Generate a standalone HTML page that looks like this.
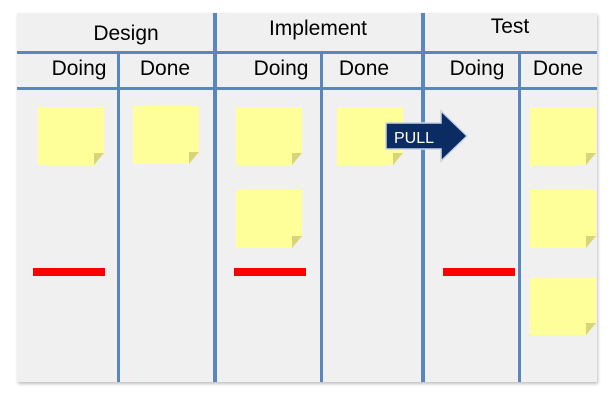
<!DOCTYPE html>
<html><head><style>
body{margin:0;width:612px;height:403px;background:#fff;position:relative;overflow:hidden;font-family:"Liberation Sans",sans-serif}
.a{position:absolute}
.board{left:17px;top:13px;width:580px;height:369px;background:#f0f0f0;box-shadow:1px 2px 3px rgba(0,0,0,.25)}
.h{height:3px;background:#5a86c0;left:17px;width:580px}
.v{background:#5a86c0}
.t{font-size:21px;color:#000;text-align:center}
.s{background:#ffff99;width:66px;height:58px;box-shadow:1px 2px 2px rgba(0,0,0,.3);clip-path:polygon(0 0,100% 0,100% 80%,85% 100%,0 100%)}
.s:after{content:"";position:absolute;right:0;bottom:0;width:10px;height:12px;background:#d8d47a;clip-path:polygon(100% 0,0 100%,0 0)}
.r{background:#ff0000;height:8px;width:72px;top:268px}
</style></head><body>
<div class="a board"></div>
<div class="a h" style="top:51px"></div>
<div class="a h" style="top:87px"></div>
<div class="a v" style="left:213px;top:13px;width:4px;height:369px"></div>
<div class="a v" style="left:421px;top:13px;width:4px;height:369px"></div>
<div class="a v" style="left:117px;top:53px;width:3px;height:329px"></div>
<div class="a v" style="left:320px;top:53px;width:3px;height:329px"></div>
<div class="a v" style="left:518px;top:53px;width:3px;height:329px"></div>
<div class="a t" style="left:60px;width:132px;top:22px">Design</div>
<div class="a t" style="left:240px;width:156px;top:17px">Implement</div>
<div class="a t" style="left:460px;width:100px;top:15px">Test</div>
<div class="a t" style="left:40px;width:78px;top:57px">Doing</div>
<div class="a t" style="left:125px;width:80px;top:57px">Done</div>
<div class="a t" style="left:242px;width:78px;top:57px">Doing</div>
<div class="a t" style="left:324px;width:80px;top:57px">Done</div>
<div class="a t" style="left:437px;width:80px;top:57px">Doing</div>
<div class="a t" style="left:518px;width:80px;top:57px">Done</div>
<div class="a s" style="left:38px;top:107px"></div>
<div class="a s" style="left:133px;top:106px"></div>
<div class="a s" style="left:236px;top:107px"></div>
<div class="a s" style="left:236px;top:190px"></div>
<div class="a s" style="left:337px;top:107px"></div>
<div class="a s" style="left:530px;top:107px"></div>
<div class="a s" style="left:530px;top:190px"></div>
<div class="a s" style="left:530px;top:277px"></div>
<div class="a r" style="left:33px"></div>
<div class="a r" style="left:234px"></div>
<div class="a r" style="left:443px"></div>
<svg class="a" style="left:384px;top:108px" width="88" height="56">
<polygon points="2,15 57,15 57,3 83,28 57,53 57,41 2,41" fill="#0b2b63" stroke="#c9d3e6" stroke-width="1.5"/>
<text x="30" y="35" font-family="Liberation Sans,sans-serif" font-size="16" fill="#fff" text-anchor="middle">PULL</text>
</svg>
</body></html>
